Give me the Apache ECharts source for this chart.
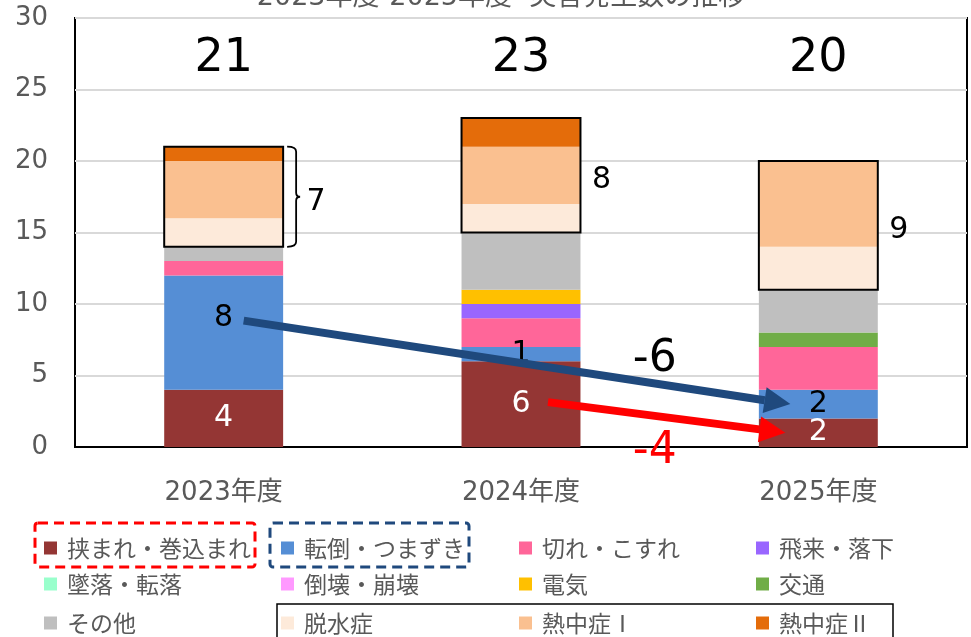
<!DOCTYPE html>
<html>
<head>
<meta charset="utf-8">
<script src="https://cdn.jsdelivr.net/npm/echarts@6/dist/echarts.min.js"></script>
<style>
  html, body { margin: 0; padding: 0; background: #fff; }
  #chart { width: 971px; height: 637px; }
</style>
</head>
<body>
<div id="chart"></div>
<script>
// years
const categories = ['2023年度', '2024年度', '2025年度'];

// counts per accident type
const hasamare = [4, 6, 2];     // 挟まれ・巻込まれ
const tentou   = [8, 1, 2];     // 転倒・つまずき
const kire     = [1, 2, 3];     // 切れ・こすれ
const hirai    = [0, 1, 0];     // 飛来・落下
const tsuiraku = [0, 0, 0];     // 墜落・転落
const toukai   = [0, 0, 0];     // 倒壊・崩壊
const denki    = [0, 1, 0];     // 電気
const koutsu   = [0, 0, 1];     // 交通
const sonota   = [1, 4, 3];     // その他
const dassui   = [2, 2, 3];     // 脱水症
const netchu1  = [4, 4, 6];     // 熱中症Ⅰ
const netchu2  = [1, 2, 0];     // 熱中症Ⅱ

const FONT = "'DejaVu Sans', 'Noto Sans CJK JP', sans-serif";
const JFONT = "'Noto Sans CJK JP', sans-serif";
const GRAY = '#595959';

const types = [
  { name: '挟まれ・巻込まれ', data: hasamare, color: '#943634' },
  { name: '転倒・つまずき', data: tentou, color: '#558ED5' },
  { name: '切れ・こすれ', data: kire, color: '#FF6699' },
  { name: '飛来・落下', data: hirai, color: '#9966FF' },
  { name: '墜落・転落', data: tsuiraku, color: '#99FFCC' },
  { name: '倒壊・崩壊', data: toukai, color: '#FF99FF' },
  { name: '電気', data: denki, color: '#FFC000' },
  { name: '交通', data: koutsu, color: '#70AD47' },
  { name: 'その他', data: sonota, color: '#BFBFBF' },
  { name: '脱水症', data: dassui, color: '#FDEADA' },
  { name: '熱中症Ⅰ', data: netchu1, color: '#FAC090' },
  { name: '熱中症Ⅱ', data: netchu2, color: '#E46C0A' }
];

const totals = categories.map((c, i) => types.reduce((s, t) => s + t.data[i], 0));
const heatSum = categories.map((c, i) => dassui[i] + netchu1[i] + netchu2[i]);
const heatBase = categories.map((c, i) => totals[i] - heatSum[i]);

const barSeries = types.map((t, k) => {
  const s = {
    name: t.name,
    type: 'bar',
    stack: 'all',
    barWidth: '40%',
    itemStyle: { color: t.color },
    data: t.data
  };
  if (k === 0 || k === 1) {
    s.label = {
      show: true,
      position: 'inside',
      color: k === 0 ? '#fff' : '#000',
      fontSize: 30,
      fontFamily: FONT
    };
    if (k === 1) {
      // first label sits a bit high in the original
      s.data = t.data.map((v, i) => i === 0 ? { value: v, label: { offset: [0, -14] } } : v);
    }
  }
  return s;
});

// box around heat-related group + group count
const heatBoxSeries = {
  type: 'custom',
  z: 5,
  clip: false,
  renderItem: function (params, api) {
    const i = api.value(0);
    const p0 = api.coord([i, api.value(1)]);
    const p1 = api.coord([i, api.value(2)]);
    const w = api.size([1, 0])[0] * 0.4;
    const xr = p0[0] + w / 2;
    const ym = (p0[1] + p1[1]) / 2;
    const children = [{
      type: 'rect',
      shape: { x: p0[0] - w / 2, y: p1[1], width: w, height: p0[1] - p1[1] },
      style: { fill: 'none', stroke: '#000', lineWidth: 2 }
    }];
    let tx = xr + 21;
    if (i === 0) {
      const a = xr + 4, b = xr + 13, c = xr + 17;
      children.push({
        type: 'path',
        shape: {
          pathData: 'M' + a + ' ' + p1[1] + ' Q' + b + ' ' + p1[1] + ' ' + b + ' ' + (p1[1] + 5) +
            ' L' + b + ' ' + (ym - 4) + ' Q' + b + ' ' + ym + ' ' + c + ' ' + ym +
            ' Q' + b + ' ' + ym + ' ' + b + ' ' + (ym + 4) +
            ' L' + b + ' ' + (p0[1] - 5) + ' Q' + b + ' ' + p0[1] + ' ' + a + ' ' + p0[1]
        },
        style: { fill: 'none', stroke: '#000', lineWidth: 1.8 }
      });
      tx = xr + 33;
    }
    children.push({
      type: 'text', x: tx, y: ym + 5,
      style: { text: String(api.value(3)), fill: '#000', font: '30px ' + FONT, align: 'center', verticalAlign: 'middle' }
    });
    return { type: 'group', children: children };
  },
  data: categories.map((c, i) => [i, heatBase[i], totals[i], heatSum[i]])
};

// totals on top
const totalSeries = {
  type: 'custom',
  z: 6,
  clip: false,
  renderItem: function (params, api) {
    const p = api.coord([api.value(0), 27.1]);
    return {
      type: 'text', x: p[0], y: p[1],
      style: { text: String(api.value(1)), fill: '#000', font: '46px ' + FONT, align: 'center', verticalAlign: 'middle' }
    };
  },
  data: categories.map((c, i) => [i, totals[i]])
};

function arrow(s, e, color, width, head, hw) {
  const dx = e[0] - s[0], dy = e[1] - s[1];
  const len = Math.sqrt(dx * dx + dy * dy);
  const ux = dx / len, uy = dy / len;
  const bx = e[0] - ux * head, by = e[1] - uy * head;
  return [
    { type: 'line', shape: { x1: s[0], y1: s[1], x2: bx, y2: by }, style: { stroke: color, lineWidth: width } },
    { type: 'polygon', shape: { points: [[e[0], e[1]], [bx - uy * hw, by + ux * hw], [bx + uy * hw, by - ux * hw]] }, style: { fill: color } }
  ];
}

// change arrows 2023/2024 -> 2025
const arrowSeries = {
  type: 'custom',
  z: 8,
  clip: false,
  renderItem: function (params, api) {
    if (params.dataIndex !== 0) return;
    const band = api.size([1, 0])[0];
    const b0 = api.coord([0, hasamare[0] + tentou[0] / 2]);
    const b1 = api.coord([2, hasamare[2] + tentou[2] / 2]);
    const r0 = api.coord([1, hasamare[1] / 2]);
    const r1 = api.coord([2, hasamare[2] / 2]);
    const children = []
      .concat(arrow([b0[0] + 20, b0[1] - 12], [b1[0] - 28, b1[1]], '#1F497D', 8, 26, 13))
      .concat(arrow([r0[0] + 27, r0[1] - 2], [r1[0] - 33, r1[1]], '#FF0000', 8, 26, 13));
    const t1 = api.coord([1, 6.1]);
    const t2 = api.coord([1, -0.35]);
    children.push({
      type: 'text', x: t1[0] + band * 0.45, y: t1[1],
      style: { text: String(tentou[2] - tentou[0]), fill: '#000', font: '44px ' + FONT, align: 'center', verticalAlign: 'middle' }
    });
    children.push({
      type: 'text', x: t2[0] + band * 0.45, y: t2[1],
      style: { text: String(hasamare[2] - hasamare[1]), fill: '#FF0000', font: '44px ' + FONT, align: 'center', verticalAlign: 'middle' }
    });
    return { type: 'group', children: children };
  },
  data: [[0]]
};

// one legend per item, laid out on a 4 x 3 grid
const colX = [39, 276, 514, 751];
const rowY = [530, 566, 605];
const legends = types.map((t, k) => ({
  left: colX[k % 4],
  top: rowY[Math.floor(k / 4)],
  itemWidth: 13,
  itemHeight: 13,
  icon: 'rect',
  selectedMode: false,
  data: [t.name],
  textStyle: { color: GRAY, fontSize: 23, fontFamily: JFONT, lineHeight: 26, padding: [0, 0, 0, 5] }
}));

const chart = echarts.init(document.getElementById('chart'));
chart.setOption({
  animation: false,
  textStyle: { fontFamily: FONT },
  grid: {
    left: 75, right: 4, top: 18, bottom: 190,
    show: true, borderColor: '#000', borderWidth: 2, backgroundColor: '#fff'
  },
  legend: legends,
  xAxis: {
    type: 'category',
    data: categories,
    axisTick: { show: false },
    axisLine: { lineStyle: { color: '#000', width: 2 } },
    axisLabel: { color: GRAY, fontSize: 26, margin: 33, fontFamily: FONT }
  },
  yAxis: {
    type: 'value',
    min: 0, max: 30, interval: 5,
    axisLine: { show: false },
    axisLabel: { color: GRAY, fontSize: 26, margin: 27, fontFamily: FONT },
    splitLine: { lineStyle: { color: '#D9D9D9', width: 2 } }
  },
  graphic: [
    {
      type: 'text', x: 501, y: 11,
      style: { text: '2023年度-2025年度  災害発生数の推移', fill: GRAY, font: '27px ' + FONT, align: 'center', verticalAlign: 'bottom' }
    },
    {
      type: 'rect', shape: { x: 35, y: 523, width: 220, height: 44, r: 3 },
      style: { fill: 'none', stroke: '#FF0000', lineWidth: 3, lineDash: [10, 6] }
    },
    {
      type: 'rect', shape: { x: 270, y: 523, width: 199, height: 44, r: 3 },
      style: { fill: 'none', stroke: '#1F497D', lineWidth: 3, lineDash: [10, 6] }
    },
    {
      type: 'rect', shape: { x: 277, y: 604, width: 616, height: 40 },
      style: { fill: 'none', stroke: '#000', lineWidth: 1.5 }
    }
  ],
  series: barSeries.concat([heatBoxSeries, totalSeries, arrowSeries])
});
</script>
</body>
</html>
